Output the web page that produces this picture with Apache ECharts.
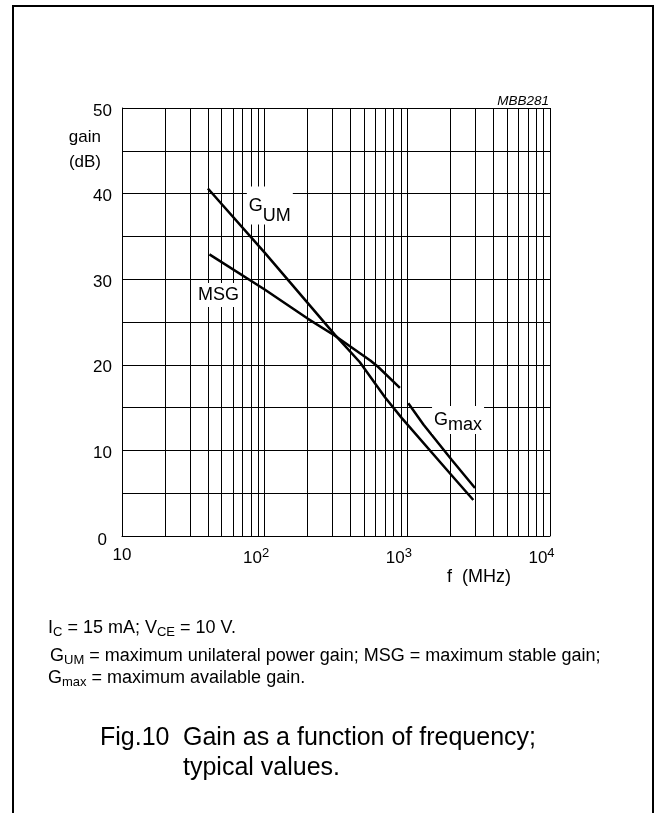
<!DOCTYPE html>
<html>
<head>
<meta charset="utf-8">
<script src="https://cdn.jsdelivr.net/npm/echarts@6/dist/echarts.min.js"></script>
<style>
  html, body { margin: 0; padding: 0; background: #fff; }
  #chart { width: 655px; height: 813px; }
</style>
</head>
<body>
<div id="chart"></div>
<script>
// ---- data ----
const gumFreq  = [40, 100, 311, 465, 697, 912, 2042, 2900];
const gumGain  = [40.6, 33.1, 23.5, 20.3, 16.2, 13.8, 7.1, 4.2];
const msgFreq  = [41, 100, 200, 311, 550, 620, 887];
const msgGain  = [32.9, 28.8, 25.4, 23.4, 20.5, 19.8, 17.3];
const gmaxFreq = [1016, 1300, 2044, 2980];
const gmaxGain = [15.5, 13.0, 8.9, 5.6];
const minorGridFreq = [20, 30, 40, 50, 60, 70, 80, 90,
                       200, 300, 400, 500, 600, 700, 800, 900,
                       2000, 3000, 4000, 5000, 6000, 7000, 8000, 9000];
const xTickBase = '10';
const xTickExp = { 10: '', 100: '2', 1000: '3', 10000: '4' };
const yTickValues = [0, 10, 20, 30, 40, 50];

const FONT = 'Liberation Sans, Arial, sans-serif';
const pairs = (xs, ys) => xs.map((x, i) => [x, ys[i]]);

const chart = echarts.init(document.getElementById('chart'), null, { renderer: 'canvas' });

const option = {
  animation: false,
  backgroundColor: '#fff',
  grid: { left: 122, right: 105, top: 108, bottom: 277, outerBoundsMode: 'none' },
  xAxis: {
    type: 'log', logBase: 10, min: 10, max: 10000,
    axisLine: { show: true, lineStyle: { color: '#000', width: 1 } },
    axisTick: { show: false },
    splitLine: { show: true, lineStyle: { color: '#000', width: 1 } },
    axisLabel: {
      margin: 11, color: '#000', fontFamily: FONT, fontSize: 17,
      showMinLabel: true, showMaxLabel: true, hideOverlap: false,
      formatter: v => {
        const e = xTickExp[Math.round(v)];
        return e ? '{b|' + xTickBase + '}{s|' + e + '}' : '{b|' + xTickBase + '}';
      },
      rich: {
        b: { fontFamily: FONT, fontSize: 17, color: '#000' },
        s: { fontFamily: FONT, fontSize: 13, color: '#000', padding: [0, 17, 10, 0] }
      }
    }
  },
  yAxis: {
    type: 'value', min: 0, max: 50, interval: 5,
    axisLine: { show: true, lineStyle: { color: '#000', width: 1 } },
    axisTick: { show: false },
    splitLine: { show: true, lineStyle: { color: '#000', width: 1 } },
    axisLabel: {
      margin: 10, color: '#000', fontFamily: FONT, fontSize: 17,
      showMinLabel: true, showMaxLabel: true, hideOverlap: false,
      formatter: v => {
        if (yTickValues.indexOf(v) < 0) return '';
        return v === 0 ? '{z|0}' : '{n|' + v + '}';
      },
      rich: {
        n: { fontFamily: FONT, fontSize: 17, color: '#000', padding: [6, 0, 0, 0] },
        z: { fontFamily: FONT, fontSize: 17, color: '#000', padding: [8, 5, 0, 0] }
      }
    }
  },
  series: [
    {
      name: 'GUM', type: 'line', z: 3, data: pairs(gumFreq, gumGain),
      showSymbol: false, symbol: 'none',
      lineStyle: { color: '#000', width: 2.5 },
      markPoint: {
        z: 10, symbol: 'circle', symbolSize: 0, silent: true,
        itemStyle: { color: 'rgba(0,0,0,0)' },
        data: [{ coord: [75, 38.6] }],
        label: {
          show: true, position: 'right', distance: 0,
          backgroundColor: '#fff', padding: [0, 2, 0, 2],
          formatter: '{g|G}{s|UM}',
          rich: {
            g: { fontFamily: FONT, fontSize: 18, color: '#000' },
            s: { fontFamily: FONT, fontSize: 18, color: '#000', padding: [20, 0, 0, 0] }
          }
        }
      }
    },
    {
      name: 'MSG', type: 'line', z: 3, data: pairs(msgFreq, msgGain),
      showSymbol: false, symbol: 'none',
      lineStyle: { color: '#000', width: 2.5 },
      markLine: {
        z: 1, silent: true, symbol: ['none', 'none'],
        label: { show: false },
        lineStyle: { color: '#000', width: 1, type: 'solid' },
        emphasis: { disabled: true },
        data: minorGridFreq.map(f => ({ xAxis: f }))
      },
      markPoint: {
        z: 10, symbol: 'circle', symbolSize: 0, silent: true,
        itemStyle: { color: 'rgba(0,0,0,0)' },
        data: [{ coord: [33, 28.15] }],
        label: {
          show: true, position: 'right', distance: 0,
          backgroundColor: '#fff', padding: [3, 2, 3, 2],
          formatter: 'MSG',
          fontFamily: FONT, fontSize: 18, color: '#000'
        }
      }
    },
    {
      name: 'Gmax', type: 'line', z: 3, data: pairs(gmaxFreq, gmaxGain),
      showSymbol: false, symbol: 'none',
      lineStyle: { color: '#000', width: 2.5 },
      markPoint: {
        z: 10, symbol: 'circle', symbolSize: 0, silent: true,
        itemStyle: { color: 'rgba(0,0,0,0)' },
        data: [{ coord: [1490, 13.55] }],
        label: {
          show: true, position: 'right', distance: 0,
          backgroundColor: '#fff', padding: [0, 2, 0, 2],
          formatter: '{g|G}{s|max}',
          rich: {
            g: { fontFamily: FONT, fontSize: 18, color: '#000' },
            s: { fontFamily: FONT, fontSize: 18, color: '#000', padding: [10, 0, 0, 0] }
          }
        }
      }
    }
  ],
  graphic: [
    { type: 'polyline', silent: true, z: 100,
      shape: { points: [[13, 830], [13, 6], [653, 6], [653, 830]] },
      style: { stroke: '#000', lineWidth: 2, fill: null } },
    { type: 'text', x: 549, y: 101, silent: true,
      style: { text: 'MBB281', fontFamily: FONT, fontSize: 13.5, fontStyle: 'italic', fill: '#000',
               textAlign: 'right', textVerticalAlign: 'middle' } },
    { type: 'text', x: 101, y: 137, silent: true,
      style: { text: 'gain', fontFamily: FONT, fontSize: 17, fill: '#000',
               textAlign: 'right', textVerticalAlign: 'middle' } },
    { type: 'text', x: 101, y: 162, silent: true,
      style: { text: '(dB)', fontFamily: FONT, fontSize: 17, fill: '#000',
               textAlign: 'right', textVerticalAlign: 'middle' } },
    { type: 'text', x: 447, y: 577, silent: true,
      style: { text: 'f  (MHz)', fontFamily: FONT, fontSize: 18, fill: '#000',
               textAlign: 'left', textVerticalAlign: 'middle' } },
    { type: 'text', x: 48, y: 628, silent: true,
      style: { text: '{n|I}{s|C}{n| = 15 mA; V}{s|CE}{n| = 10 V.}',
               fontFamily: FONT, fontSize: 18, fill: '#000',
               textAlign: 'left', textVerticalAlign: 'middle',
               rich: { n: { fontFamily: FONT, fontSize: 18, fill: '#000' },
                       s: { fontFamily: FONT, fontSize: 13, fill: '#000', padding: [8, 0, 0, 0] } } } },
    { type: 'text', x: 50, y: 656, silent: true,
      style: { text: '{n|G}{s|UM}{n| = maximum unilateral power gain; MSG = maximum stable gain;}',
               fontFamily: FONT, fontSize: 18, fill: '#000',
               textAlign: 'left', textVerticalAlign: 'middle',
               rich: { n: { fontFamily: FONT, fontSize: 18, fill: '#000' },
                       s: { fontFamily: FONT, fontSize: 13, fill: '#000', padding: [8, 0, 0, 0] } } } },
    { type: 'text', x: 48, y: 678, silent: true,
      style: { text: '{n|G}{s|max}{n| = maximum available gain.}',
               fontFamily: FONT, fontSize: 18, fill: '#000',
               textAlign: 'left', textVerticalAlign: 'middle',
               rich: { n: { fontFamily: FONT, fontSize: 18, fill: '#000' },
                       s: { fontFamily: FONT, fontSize: 13, fill: '#000', padding: [8, 0, 0, 0] } } } },
    { type: 'text', x: 100, y: 738, silent: true,
      style: { text: 'Fig.10', fontFamily: FONT, fontSize: 25, fill: '#000',
               textAlign: 'left', textVerticalAlign: 'middle' } },
    { type: 'text', x: 183, y: 738, silent: true,
      style: { text: 'Gain as a function of frequency;', fontFamily: FONT, fontSize: 25, fill: '#000',
               textAlign: 'left', textVerticalAlign: 'middle' } },
    { type: 'text', x: 183, y: 768, silent: true,
      style: { text: 'typical values.', fontFamily: FONT, fontSize: 25, fill: '#000',
               textAlign: 'left', textVerticalAlign: 'middle' } }
  ]
};

chart.setOption(option);
</script>
</body>
</html>
